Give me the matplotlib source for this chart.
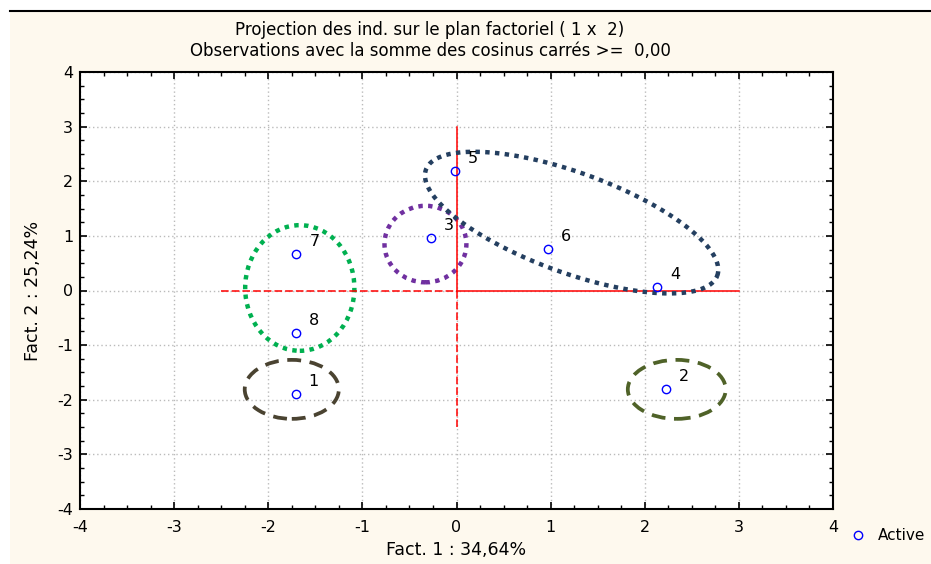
#!/usr/bin/env python
# -*- coding: utf-8 -*-

import numpy as np
import matplotlib.pyplot as plt
from matplotlib.patches import Ellipse, Rectangle
from matplotlib.lines import Line2D

plt.rcParams.update({'font.family': ['DejaVu Sans'], 'font.size': 11.5,
                     'axes.unicode_minus': False})

# individus projetes sur le plan factoriel (1 x 2)
noms = ['1', '2', '3', '4', '5', '6', '7', '8']
fact1 = [-1.71, 2.23, -0.27, 2.135, -0.02, 0.97, -1.70, -1.71]
fact2 = [-1.90, -1.81, 0.96, 0.06, 2.18, 0.755, 0.675, -0.78]

graduations = [-4, -3, -2, -1, 0, 1, 2, 3, 4]

# groupes entoures a la main (centre x, centre y, largeur, hauteur)
groupes_droits = [
    (-1.665, 0.046, 1.16, 2.30, '#00B050', 'pointille'),
    (-0.33, 0.85, 0.87, 1.40, '#7030A0', 'pointille'),
    (-1.75, -1.81, 1.00, 1.08, '#4A4331', 'tirets'),
    (2.34, -1.81, 1.04, 1.08, '#4F6228', 'tirets'),
]

fig = plt.figure(figsize=(9.31, 5.64), dpi=100)
fig.patch.set_facecolor('white')

# fond creme et trait du haut (style Statistica)
fig.add_artist(Rectangle((10/931, 0), 1, 1 - 11/564, transform=fig.transFigure,
                         facecolor='#FEF9EE', edgecolor='none', zorder=-10))
fig.add_artist(Line2D([10/931, 1], [1 - 11/564, 1 - 11/564], transform=fig.transFigure,
                      color='black', lw=1.5))

ax = fig.add_axes([80/931, 55/564, 753/931, 437/564])
ax.set_facecolor('white')
ax.set_xlim(-4, 4)
ax.set_ylim(-4, 4)
ax.set_xticks(graduations)
ax.set_yticks(graduations)
ax.set_xticks(np.arange(-4, 4.01, 0.25), minor=True)
ax.set_yticks(np.arange(-4, 4.01, 0.25), minor=True)
ax.tick_params(which='both', direction='in', top=True, right=True, labelsize=11.5)
ax.tick_params(which='major', length=5, width=1.2)
ax.tick_params(which='minor', length=3, width=1)
ax.tick_params(axis='x', pad=8)
ax.tick_params(axis='y', pad=5)
for s in ax.spines.values():
    s.set_linewidth(1.5)
ax.grid(True, which='major', color='#BBBBBB', linestyle=(0, (1, 2)), lw=1)
ax.set_axisbelow(True)

# axes de reference en rouge
ax.plot([0, 3], [0, 0], color='red', lw=1.1)
ax.plot([-2.5, 0], [0, 0], color='red', lw=1.1, linestyle=(0, (5, 2)))
ax.plot([0, 0], [0, 3], color='red', lw=1.1)
ax.plot([0, 0], [-2.5, 0], color='red', lw=1.1, linestyle=(0, (5, 2)))

# ellipses
for cx, cy, w, h, c, st in groupes_droits:
    if st == 'pointille':
        ls, lw = (0, (1, 1.2)), 3.2
    else:
        ls, lw = (0, (3.7, 2.3)), 2.7
    ax.add_patch(Ellipse((cx, cy), w, h, fill=False, edgecolor=c, lw=lw, linestyle=ls))

# ellipse inclinee (5, 6, 4) : definie en pixels pour garder la forme
bb = ax.get_window_extent()
sx = bb.width/8.0
sy = bb.height/8.0
t = np.linspace(0, 2*np.pi, 400)
a, b, ang = 155.0, 50.0, np.radians(-20)
u = a*np.cos(t)*np.cos(ang) - b*np.sin(t)*np.sin(ang)
v = a*np.cos(t)*np.sin(ang) + b*np.sin(t)*np.cos(ang)
ax.plot(1.223 + u/sx, 1.243 + v/sy, color='#243F60', lw=3.2, linestyle=(0, (1, 1.2)))

# points et etiquettes
ax.plot(fact1, fact2, 'o', mfc='none', mec='blue', mew=1, markersize=6, zorder=5)
for nom, x, y in zip(noms, fact1, fact2):
    ax.annotate(nom, (x, y), xytext=(18, 12.5), textcoords='offset pixels',
                ha='center', va='center', fontsize=11.5, zorder=6)

ax.set_xlabel('Fact. 1 : 34,64%', fontsize=12.5, labelpad=4)
ax.set_ylabel('Fact. 2 : 25,24%', fontsize=12.5, labelpad=11)

fig.text(430/931, 1 - 30/564, 'Projection des ind. sur le plan factoriel ( 1 x  2)',
         ha='center', va='center', fontsize=12)
fig.text(430/931, 1 - 51/564, 'Observations avec la somme des cosinus carrés >=  0,00',
         ha='center', va='center', fontsize=12)

# legende
fig.add_artist(Line2D([858/931], [1 - 535/564], transform=fig.transFigure, marker='o',
                      mfc='none', mec='blue', mew=1, markersize=6, linestyle='none'))
fig.text(878/931, 1 - 535/564, 'Active', ha='left', va='center', fontsize=11)

plt.savefig('out.png', dpi=100, facecolor=fig.get_facecolor())
